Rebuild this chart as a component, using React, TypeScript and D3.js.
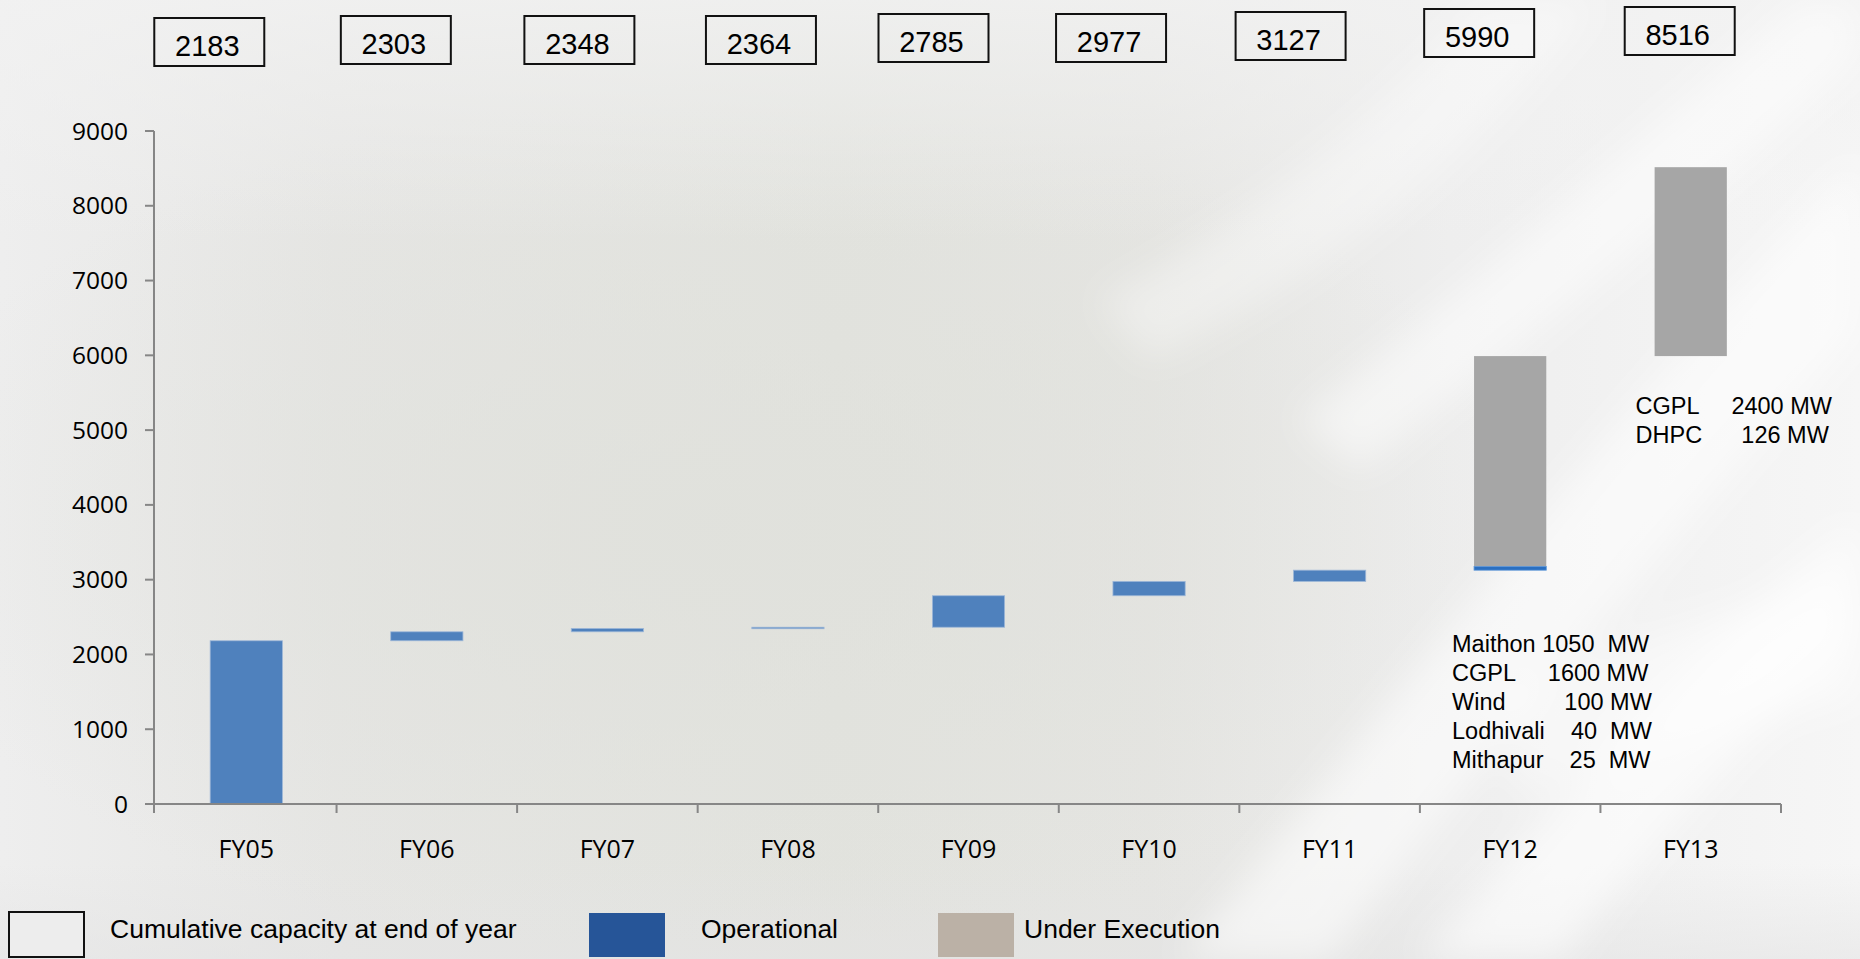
import React from "react";
import * as d3 from "d3";

// Fiscal years on the category axis
const categories = ["FY05", "FY06", "FY07", "FY08", "FY09", "FY10", "FY11", "FY12", "FY13"];
// Cumulative capacity (MW) at end of each year, shown in the boxes above the chart
const cumulative = [2183, 2303, 2348, 2364, 2785, 2977, 3127, 5990, 8516];
// Capacity added in the year that is operational (MW)
const operationalAdded = [2183, 120, 45, 16, 421, 192, 150, 48, 0];
// Capacity added in the year that is still under execution (MW)
const underExecutionAdded = [0, 0, 0, 0, 0, 0, 0, 2815, 2526];
// Y axis ticks
const yTicks = [0, 1000, 2000, 3000, 4000, 5000, 6000, 7000, 8000, 9000];
// Project notes beside the FY12 and FY13 columns
const fy12Notes = [
  "Maithon 1050  MW",
  "CGPL     1600 MW",
  "Wind         100 MW",
  "Lodhivali    40  MW",
  "Mithapur    25  MW",
];
const fy13Notes = ["CGPL     2400 MW", "DHPC      126 MW"];
const legendItems = ["Cumulative capacity at end of year", "Operational", "Under Execution"];

// Hand-placed callout boxes: horizontal nudge from the column centre and top edge
const boxNudge = [
  { dx: -37, top: 18 },
  { dx: -31, top: 16 },
  { dx: -28, top: 16 },
  { dx: -27, top: 16 },
  { dx: -35, top: 14 },
  { dx: -38, top: 14 },
  { dx: -39, top: 12 },
  { dx: -31, top: 9 },
  { dx: -11, top: 7 },
];

const W = 1860;
const H = 959;
const plot = { left: 154, right: 1781, top: 131, bottom: 804 };

const BLUE = "#4f81bd";
const BLUE_DARK = "#2a6fc1";
const GREY = "#a6a6a6";
const AXIS = "#868686";
const ARIAL = "'Liberation Sans', Arial, sans-serif";
const AXIS_FONT = "'Open Sans', sans-serif";

export default function App() {
  const x = d3
    .scaleBand<string>()
    .domain(categories)
    .range([plot.left + 2, plot.right])
    .paddingInner(0.6)
    .paddingOuter(0.3);
  const y = d3.scaleLinear().domain([0, 9000]).range([plot.bottom, plot.top]);
  const bw = x.bandwidth();
  const step = x.step();

  // Floating segments: each year starts at the previous year's cumulative total
  const segments = categories.map((c, i) => {
    const base = i === 0 ? 0 : cumulative[i - 1];
    const opTop = base + operationalAdded[i];
    const ueTop = opTop + underExecutionAdded[i];
    return { c, i, base, opTop, ueTop };
  });

  // Category dividers on the x axis (the first one sits on the y axis itself)
  const boundaries = d3
    .range(1, categories.length + 1)
    .map((k) => (x(categories[k - 1]) as number) + bw / 2 + step / 2);

  return (
    <svg
      width={W}
      height={H}
      viewBox={`0 0 ${W} ${H}`}
      style={{ position: "absolute", left: 0, top: 0, display: "block" }}
    >
      <defs>
        <linearGradient id="bgH" x1="0" y1="0" x2="1" y2="0">
          <stop offset="0" stopColor="#eeeeee" />
          <stop offset="0.18" stopColor="#e6e6e4" />
          <stop offset="0.45" stopColor="#e2e3de" />
          <stop offset="0.62" stopColor="#e5e5e2" />
          <stop offset="0.78" stopColor="#eeeeee" />
          <stop offset="1" stopColor="#f6f6f6" />
        </linearGradient>
        <radialGradient id="bgGlow" cx="0.38" cy="0.55" r="0.45">
          <stop offset="0" stopColor="#e0e1dc" stopOpacity="0.9" />
          <stop offset="1" stopColor="#e0e1dc" stopOpacity="0" />
        </radialGradient>
        <linearGradient id="bgTop" x1="0" y1="0" x2="0" y2="1">
          <stop offset="0" stopColor="#f2f2f2" stopOpacity="0.8" />
          <stop offset="0.25" stopColor="#f2f2f2" stopOpacity="0" />
          <stop offset="0.9" stopColor="#e4e4e4" stopOpacity="0" />
          <stop offset="1" stopColor="#e4e4e4" stopOpacity="0.6" />
        </linearGradient>
        <filter id="soft" x="-20%" y="-20%" width="140%" height="140%">
          <feGaussianBlur stdDeviation="18" />
        </filter>
      </defs>

      {/* backdrop */}
      <rect x={0} y={0} width={W} height={H} fill="url(#bgH)" />
      <rect x={0} y={0} width={W} height={H} fill="url(#bgGlow)" />
      <rect x={0} y={0} width={W} height={H} fill="url(#bgTop)" />
      <g filter="url(#soft)" fill="#ffffff">
        <path d="M1180,959 C1400,700 1600,420 1860,160 L1860,330 C1650,560 1450,800 1330,959 Z" opacity="0.55" />
        <path d="M1420,959 C1560,800 1700,640 1860,520 L1860,640 C1740,740 1640,860 1560,959 Z" opacity="0.6" />
        <path d="M1300,420 C1450,300 1620,160 1800,0 L1860,0 L1860,60 C1680,220 1500,360 1360,470 Z" opacity="0.5" />
        <path d="M1500,700 C1620,640 1740,600 1860,580 L1860,700 C1740,720 1620,760 1520,800 Z" opacity="0.45" />
        <path d="M1100,300 C1250,220 1380,120 1480,0 L1600,0 C1480,160 1320,280 1150,360 Z" opacity="0.35" />
      </g>

      {/* callout boxes with cumulative totals */}
      <g>
        {categories.map((c, i) => {
          const cx = (x(c) as number) + bw / 2 + boxNudge[i].dx;
          const top = boxNudge[i].top;
          return (
            <g key={`box-${c}`}>
              <rect x={cx - 55} y={top} width={110} height={48} fill="none" stroke="#111" strokeWidth={2} />
              <text
                x={cx - 2}
                y={top + 38}
                textAnchor="middle"
                fontFamily={ARIAL}
                fontSize={29}
                fill="#000"
              >
                {cumulative[i]}
              </text>
            </g>
          );
        })}
      </g>

      {/* y axis */}
      <g>
        <line x1={plot.left} x2={plot.left} y1={y(9000)} y2={plot.bottom + 9} stroke={AXIS} strokeWidth={2} />
        {yTicks.map((t) => (
          <g key={`yt-${t}`}>
            <line x1={plot.left - 9} x2={plot.left} y1={y(t)} y2={y(t)} stroke={AXIS} strokeWidth={2} />
            <text
              x={plot.left - 26}
              y={y(t) + 8.5}
              textAnchor="end"
              fontFamily={AXIS_FONT}
              fontSize={24.5}
              fill="#000"
            >
              {t}
            </text>
          </g>
        ))}
      </g>

      {/* bars */}
      <g>
        {segments.map((s) => (
          <g key={`bar-${s.c}`}>
            {underExecutionAdded[s.i] > 0 && (
              <rect
                x={x(s.c)}
                y={y(s.ueTop)}
                width={bw}
                height={y(s.opTop) - y(s.ueTop)}
                fill={GREY}
              />
            )}
            {operationalAdded[s.i] > 0 && (
              <rect
                x={x(s.c)}
                y={y(s.opTop)}
                width={bw}
                height={Math.max(1.5, y(s.base) - y(s.opTop))}
                fill={underExecutionAdded[s.i] > 0 ? BLUE_DARK : BLUE}
                stroke={underExecutionAdded[s.i] > 0 ? "#5b95d6" : "#9db7d8"}
                strokeWidth={0.8}
              />
            )}
          </g>
        ))}
      </g>

      {/* x axis */}
      <g>
        <line x1={plot.left} x2={plot.right} y1={plot.bottom} y2={plot.bottom} stroke={AXIS} strokeWidth={2} />
        {boundaries.map((bx, k) => (
          <line key={`xt-${k}`} x1={bx} x2={bx} y1={plot.bottom} y2={plot.bottom + 9} stroke={AXIS} strokeWidth={2} />
        ))}
        {categories.map((c) => (
          <text
            key={`xl-${c}`}
            x={(x(c) as number) + bw / 2}
            y={plot.bottom + 54}
            textAnchor="middle"
            fontFamily={AXIS_FONT}
            fontSize={25}
            fill="#000"
          >
            {c}
          </text>
        ))}
      </g>

      {/* project notes */}
      <g fontFamily={ARIAL} fontSize={23.5} fill="#000" style={{ whiteSpace: "pre" }}>
        {fy12Notes.map((n, k) => (
          <text key={`n12-${k}`} x={(x("FY12") as number) - 22} y={652 + k * 28.9} xmlSpace="preserve">
            {n}
          </text>
        ))}
        {fy13Notes.map((n, k) => (
          <text key={`n13-${k}`} x={(x("FY13") as number) - 19} y={414 + k * 29} xmlSpace="preserve">
            {n}
          </text>
        ))}
      </g>

      {/* legend */}
      <g fontFamily={ARIAL} fontSize={26.5} fill="#000">
        <rect x={9} y={912} width={75} height={45} fill="#ededed" stroke="#111" strokeWidth={2} />
        <text x={110} y={938}>{legendItems[0]}</text>
        <rect x={589} y={913} width={76} height={44} fill="#265598" />
        <text x={701} y={938}>{legendItems[1]}</text>
        <rect x={938} y={913} width={76} height={44} fill="#bbb1a6" />
        <text x={1024} y={938}>{legendItems[2]}</text>
      </g>
    </svg>
  );
}
